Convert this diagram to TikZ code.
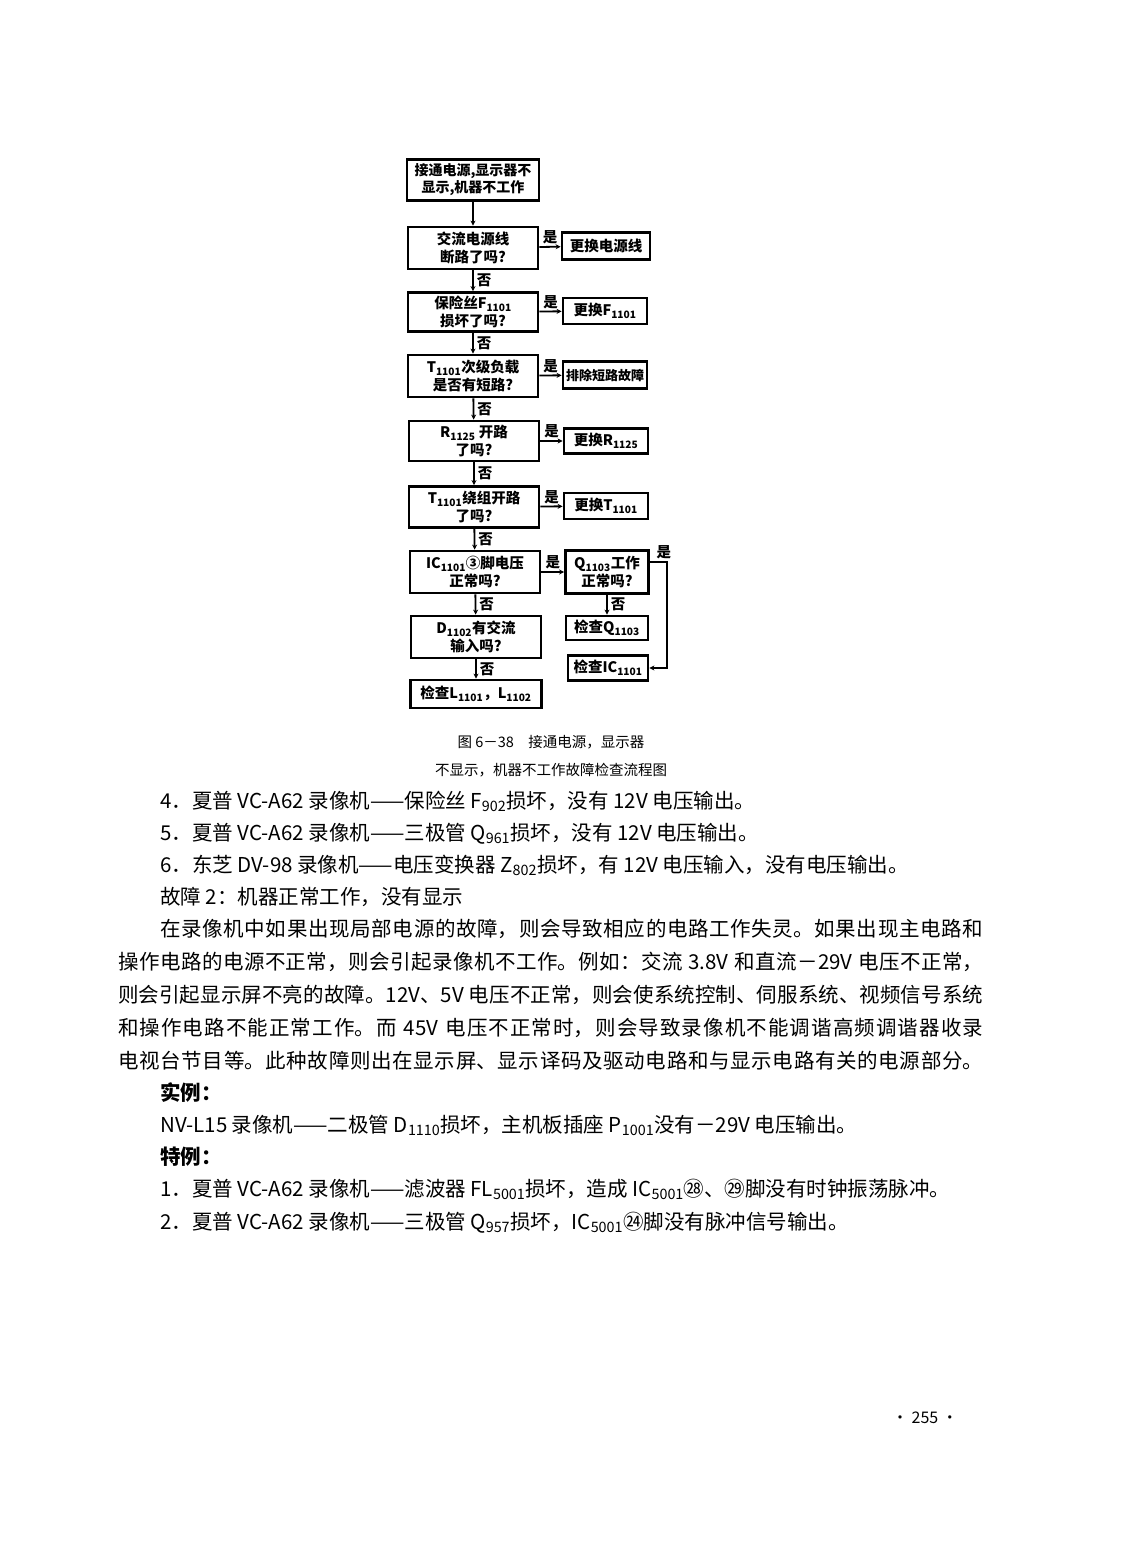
\documentclass[tikz,border=0pt]{standalone}
\usepackage{fontspec}
\setmainfont{Noto Sans CJK SC}
\usetikzlibrary{arrows.meta}

\XeTeXlinebreaklocale "zh"
\XeTeXlinebreakskip=0pt plus 1pt

\newcommand{\boxfont}{\fontsize{14.5}{17.5}\selectfont\bfseries}
\newcommand{\bodyfont}{\fontsize{20.5}{33}\selectfont}
\newcommand{\capfont}{\fontsize{14.5}{18}\selectfont}

\begin{document}
\begin{tikzpicture}[
    x=1pt, y=-1pt,
    flowbox/.style={rectangle, draw=black, line width=2.8pt, inner sep=1pt,
                    minimum width=130pt, minimum height=42pt,
                    align=center, font=\boxfont},
    sidebox/.style={flowbox, minimum width=84pt, minimum height=27pt},
    link/.style={line width=1.8pt, -{Stealth[length=5pt, width=5pt]}},
    yes/.style={above, inner sep=2pt, font=\boxfont},
    no/.style={right, inner sep=3pt, font=\boxfont},
    textline/.style={anchor=base west, inner sep=0pt, font=\bodyfont},
    fullline/.style={textline, text width=865pt, align=justify,
                     execute at begin node={\parfillskip=0pt}},
    caption/.style={inner sep=0pt, font=\capfont}
  ]
    \fill[white] (0,0) rectangle (1122,1568);
    \useasboundingbox (0,0) rectangle (1122,1568);

    % Main column
    \node[flowbox, minimum width=132pt, minimum height=41pt, font=\fontsize{14}{17}\selectfont\bfseries] (start) at (473,180) {接通电源,显示器不\\显示,机器不工作};
    \node[flowbox] (cord) at (473,248) {交流电源线\\断路了吗?};
    \node[flowbox, minimum height=39pt] (fuse) at (473,312) {保险丝F\textsubscript{1101}\\损坏了吗?};
    \node[flowbox] (load) at (473,376) {T\textsubscript{1101}次级负载\\是否有短路?};
    \node[flowbox, minimum height=40pt] (resist) at (474,441) {R\textsubscript{1125} 开路\\了吗?};
    \node[flowbox, minimum height=41pt] (winding) at (474,507) {T\textsubscript{1101}绕组开路\\了吗?};
    \node[flowbox] (icpin) at (475,572) {IC\textsubscript{1101}③脚电压\\正常吗?};
    \node[flowbox] (diode) at (476,637) {D\textsubscript{1102}有交流\\输入吗?};
    \node[flowbox, minimum width=131pt, minimum height=28pt] (checkl) at (476,694) {检查L\textsubscript{1101}，L\textsubscript{1102}};

    % Side boxes
    \node[sidebox, minimum width=88pt] (newcord) at (606,246) {更换电源线};
    \node[sidebox, minimum height=26pt] (newfuse) at (605,311) {更换F\textsubscript{1101}};
    \node[sidebox, font=\fontsize{13}{15}\selectfont\bfseries] (clearshort) at (605,375) {排除短路故障};
    \node[sidebox, minimum height=25pt] (newres) at (606,441) {更换R\textsubscript{1125}};
    \node[sidebox, minimum height=26pt] (newwind) at (606,506) {更换T\textsubscript{1101}};
    \node[sidebox, minimum width=83pt, minimum height=43pt] (qwork) at (607,572) {Q\textsubscript{1103}工作\\正常吗?};
    \node[sidebox, minimum width=82pt, minimum height=24pt] (checkq) at (607,628) {检查Q\textsubscript{1103}};
    \node[sidebox, minimum width=80pt, minimum height=25pt] (checkic) at (608,668) {检查IC\textsubscript{1101}};

    % Connectors
    \draw[link] (start) -- (cord);
    \draw[link] (cord) -- node[yes] {是} (newcord);
    \draw[link] (cord) -- node[no] {否} (fuse);
    \draw[link] (fuse) -- node[yes] {是} (newfuse);
    \draw[link] (fuse) -- node[no] {否} (load);
    \draw[link] (load) -- node[yes] {是} (clearshort);
    \draw[link] (load) -- node[no] {否} (resist);
    \draw[link] (resist) -- node[yes] {是} (newres);
    \draw[link] (resist) -- node[no] {否} (winding);
    \draw[link] (winding) -- node[yes] {是} (newwind);
    \draw[link] (winding) -- node[no] {否} (icpin);
    \draw[link] (icpin) -- node[yes] {是} (qwork);
    \draw[link] (icpin) -- node[no] {否} (diode);
    \draw[link] (diode) -- node[no] {否} (checkl);
    \draw[link] (qwork) -- node[no] {否} (checkq);
    \draw[link] ([yshift=10pt]qwork.east) -- ++(17,0) node[above, xshift=-3pt, inner sep=2pt, font=\boxfont] {是} |- (checkic.east);

    % Caption
    \node[caption] (cap1) at (551,742) {图 6－38\quad 接通电源，显示器};
    \node[caption] (cap2) at (551,770) {不显示，机器不工作故障检查流程图};

    % Body text
    \node[textline] (line1) at (160,808) {4．夏普 VC-A62 录像机——保险丝 F\textsubscript{902}损坏，没有 12V 电压输出。};
    \node[textline] (line2) at (160,840) {5．夏普 VC-A62 录像机——三极管 Q\textsubscript{961}损坏，没有 12V 电压输出。};
    \node[textline] (line3) at (160,872) {6．东芝 DV-98 录像机——电压变换器 Z\textsubscript{802}损坏，有 12V 电压输入，没有电压输出。};
    \node[textline] (line4) at (160,904) {故障 2：机器正常工作，没有显示};
    \node[fullline, text width=823pt] (line5) at (160,936) {在录像机中如果出现局部电源的故障，则会导致相应的电路工作失灵。如果出现主电路和};
    \node[fullline] (line6) at (118,969) {操作电路的电源不正常，则会引起录像机不工作。例如：交流 3.8V 和直流－29V 电压不正常，};
    \node[fullline] (line7) at (118,1002) {则会引起显示屏不亮的故障。12V、5V 电压不正常，则会使系统控制、伺服系统、视频信号系统};
    \node[fullline] (line8) at (118,1035) {和操作电路不能正常工作。而 45V 电压不正常时，则会导致录像机不能调谐高频调谐器收录};
    \node[fullline] (line9) at (118,1068) {电视台节目等。此种故障则出在显示屏、显示译码及驱动电路和与显示电路有关的电源部分。};
    \node[textline, font=\bodyfont\bfseries] (line10) at (160,1100) {实例：};
    \node[textline] (line11) at (160,1132) {NV-L15 录像机——二极管 D\textsubscript{1110}损坏，主机板插座 P\textsubscript{1001}没有－29V 电压输出。};
    \node[textline, font=\bodyfont\bfseries] (line12) at (160,1164) {特例：};
    \node[textline] (line13) at (160,1196) {1．夏普 VC-A62 录像机——滤波器 FL\textsubscript{5001}损坏，造成 IC\textsubscript{5001}㉘、㉙脚没有时钟振荡脉冲。};
    \node[textline] (line14) at (160,1229) {2．夏普 VC-A62 录像机——三极管 Q\textsubscript{957}损坏，IC\textsubscript{5001}㉔脚没有脉冲信号输出。};

    % Page number
    \node[inner sep=0pt, font=\fontsize{16}{18}\selectfont] (pageno) at (925,1418) {• 255 •};
\end{tikzpicture}
\end{document}
